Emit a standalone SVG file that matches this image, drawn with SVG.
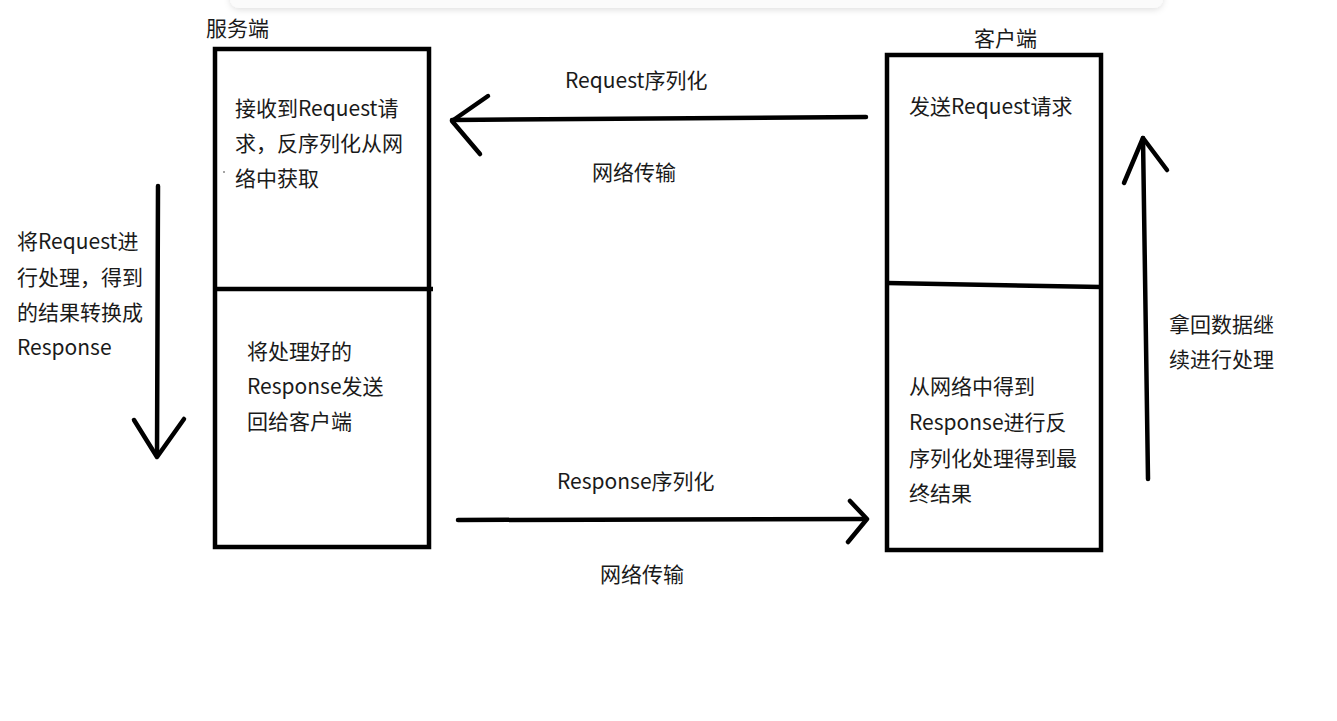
<svg xmlns="http://www.w3.org/2000/svg" width="1337" height="721" viewBox="0 0 1337 721">
<style>
text{font-family:"Noto Sans CJK SC","Microsoft YaHei",sans-serif;font-size:21px;fill:#1a1a1a}
.box{fill:none;stroke:#000;stroke-width:4.5}
.ln{fill:none;stroke:#000;stroke-width:4.5;stroke-linecap:round;stroke-linejoin:round}
</style>
<defs>
<filter id="sh" x="-5%" y="-50%" width="110%" height="250%">
<feDropShadow dx="0" dy="2" stdDeviation="3" flood-color="#000" flood-opacity="0.12"/>
</filter>
</defs>
<rect width="1337" height="721" fill="#fff"/>
<rect x="230" y="-20" width="933" height="28" rx="9" fill="#fbfbfb" filter="url(#sh)"/>
<g id="server">
<text x="206" y="36">服务端</text>
<rect class="box" x="215" y="49" width="214" height="498"/>
<line class="box" x1="215" y1="289" x2="433" y2="289"/>
<text x="235" y="116">接收到Request请</text>
<text x="235" y="151">求，反序列化从网</text>
<text x="235" y="186">络中获取</text>
<circle cx="224" cy="172" r="0.8" fill="#333"/>
<text x="247" y="359">将处理好的</text>
<text x="247" y="394">Response发送</text>
<text x="247" y="429">回给客户端</text>
</g>
<g id="client">
<text x="974" y="46">客户端</text>
<rect class="box" x="887" y="55" width="214" height="495"/>
<polyline class="box" points="887,283 1101,287"/>
<text x="909" y="114">发送Request请求</text>
<text x="909" y="394">从网络中得到</text>
<text x="909" y="430">Response进行反</text>
<text x="909" y="466">序列化处理得到最</text>
<text x="909" y="501">终结果</text>
</g>
<g id="connectors">
<polyline class="ln" points="866,117 452,120"/>
<polyline class="ln" points="488,96 452,121 480,154"/>
<text x="565" y="88">Request序列化</text>
<text x="592" y="180">网络传输</text>
<polyline class="ln" points="458,520 866,519"/>
<polyline class="ln" points="850,501 867,519 848,542"/>
<text x="557" y="489">Response序列化</text>
<text x="600" y="582">网络传输</text>
<polyline class="ln" points="158,186 157,456"/>
<polyline class="ln" points="134,420 157,457 184,419"/>
<text x="17" y="249">将Request进</text>
<text x="17" y="285">行处理，得到</text>
<text x="17" y="320">的结果转换成</text>
<text x="17" y="355">Response</text>
<polyline class="ln" points="1148,479 1143,138"/>
<polyline class="ln" points="1124,183 1143,138 1167,170"/>
<text x="1169" y="332">拿回数据继</text>
<text x="1169" y="367">续进行处理</text>
</g>
</svg>
